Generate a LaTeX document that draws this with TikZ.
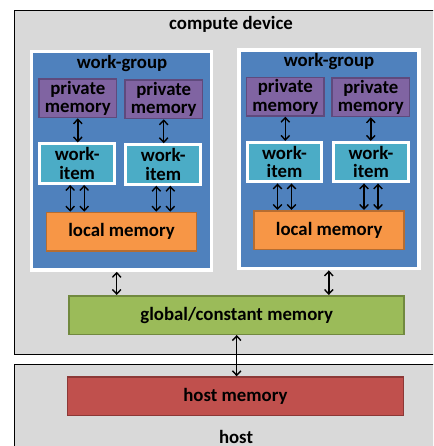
\documentclass[tikz,border=0pt]{standalone}
\usepackage{fontspec}
\setmainfont{Carlito}
\definecolor{OCLgray}{HTML}{D9D9D9}
\definecolor{OCLblue}{HTML}{4F81BD}
\definecolor{OCLpurple}{HTML}{8064A2}
\definecolor{OCLpurpleD}{HTML}{5F4A7D}
\definecolor{OCLteal}{HTML}{4BACC6}
\definecolor{OCLorange}{HTML}{F79646}
\definecolor{OCLorangeD}{HTML}{B66D31}
\definecolor{OCLgreen}{HTML}{9BBB59}
\definecolor{OCLgreenD}{HTML}{71893F}
\definecolor{OCLred}{HTML}{C0504D}
\definecolor{OCLredD}{HTML}{8C3836}
\usetikzlibrary{arrows.meta, positioning}
\tikzset{
   txt/.style={font=\bfseries\fontsize{18.8}{18.5}\selectfont, align=center, inner sep=0pt},
   membox/.style={txt, draw, line width=1.5pt, minimum height=38.5pt},
   wgbox/.style={draw=white, fill=OCLblue, line width=3.5pt, minimum width=180pt, minimum height=218.5pt, inner sep=0pt},
   itembox/.style={txt, draw=white, fill=OCLteal, line width=3pt, minimum width=74.7pt, minimum height=39.5pt},
   privbox/.style={membox, draw=OCLpurpleD, fill=OCLpurple, minimum width=77.5pt},
   link/.style={{Straight Barb[length=4.5pt,width=8.5pt]}-{Straight Barb[length=4.5pt,width=8.5pt]}, line width=1.4pt}
}
\begin{document}
\begin{tikzpicture}[x=1pt, y=-1pt]
            \useasboundingbox (0,0) rectangle (433,446);
            \clip (0,0) rectangle (433,446);
            % device and host areas
            \draw[fill=OCLgray, line width=0.8pt] (14,10) rectangle (450,354);
            \draw[fill=OCLgray, line width=0.8pt] (14,364.3) rectangle (450,460);
            \node[txt] (devlbl) at (231,24) {compute device};
            \node[txt] (hostlbl) at (236,436.5) {host};
            % work-groups
            \node[wgbox] (wg1) at (121.5,160.8) {};
            \node[wgbox] (wg2) at (328.8,159.4) {};
            \node[txt] (wglbl1) at (122,63) {work-group};
            \node[txt] (wglbl2) at (329,61.5) {work-group};
            % private memories
            \node[privbox] (pm11) at (77.8,98.3) {private\\memory};
            \node[privbox] (pm12) at (163.7,99.3) {private\\memory};
            \node[privbox] (pm21) at (285.3,96.7) {private\\memory};
            \node[privbox] (pm22) at (370.8,97.3) {private\\memory};
            % work-items
            \node[itembox] (wi11) at (77.2,163.7) {work-\\item};
            \node[itembox] (wi12) at (163.3,164.5) {work-\\item};
            \node[itembox] (wi21) at (284.5,162.2) {work-\\item};
            \node[itembox] (wi22) at (371,162.2) {work-\\item};
            % local memories
            \node[membox, draw=OCLorangeD, fill=OCLorange, minimum width=150pt] (lm1) at (121.5,231.7) {local memory};
            \node[membox, draw=OCLorangeD, fill=OCLorange, minimum width=150pt] (lm2) at (329.2,230) {local memory};
            % global and host memory
            \node[membox, draw=OCLgreenD, fill=OCLgreen, minimum width=335pt] (glob) at (236.7,315) {global/constant memory};
            \node[membox, draw=OCLredD, fill=OCLred, minimum width=336pt] (hmem) at (235.4,396.3) {host memory};
            % private <-> work-item
            \foreach \p/\w in {pm11/wi11, pm12/wi12, pm21/wi21, pm22/wi22}
               \draw[link] (\p.south) -- (\p.south |- \w.north);
            % work-item <-> local memory
            \foreach \w/\l in {wi11/lm1, wi12/lm1, wi21/lm2, wi22/lm2} {
               \draw[link] ([xshift=-7pt]\w.south) -- ([xshift=-7pt]\w.south |- \l.north);
               \draw[link] ([xshift=7pt]\w.south) -- ([xshift=7pt]\w.south |- \l.north);
            }
            % work-group <-> global, global <-> host
            \draw[link] ([xshift=-4.8pt]wg1.south) -- ([xshift=-4.8pt]wg1.south |- glob.north);
            \draw[link] (wg2.south) -- (wg2.south |- glob.north);
            \draw[link] (glob.south) -- (glob.south |- hmem.north);
         \end{tikzpicture}
\end{document}
